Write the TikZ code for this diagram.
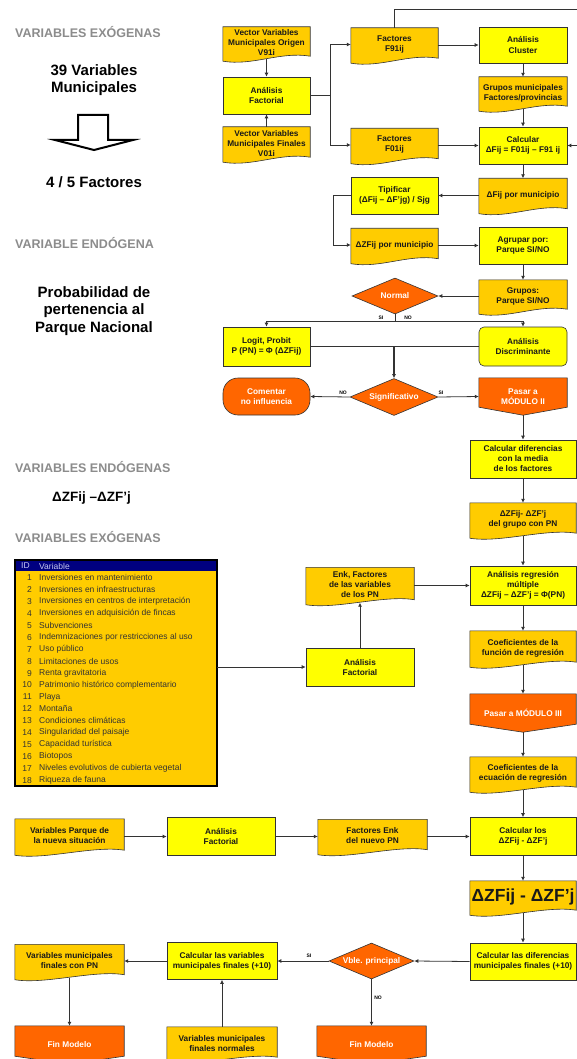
\documentclass[tikz,border=0pt]{standalone}
\usepackage{fontspec}
\setmainfont{Liberation Sans}
\usetikzlibrary{shapes.geometric,arrows.meta,backgrounds,calc}
\definecolor{procyellow}{HTML}{FFFF00}
\definecolor{docorange}{HTML}{FFCC00}
\definecolor{termred}{HTML}{FF6600}
\definecolor{headgray}{HTML}{8C8C8C}
\definecolor{tabnavy}{HTML}{000080}
\definecolor{tabhead}{HTML}{C8C8F0}
\definecolor{boxline}{HTML}{333333}
\tikzset{
  sz/.style 2 args={minimum width=#1, minimum height=#2},
  boxtext/.style={font=\fontsize{8.3}{10}\selectfont\bfseries, text=black!90, align=center, inner sep=1pt},
  procbox/.style={boxtext, rectangle, draw=boxline, fill=procyellow, line width=0.6pt},
  docbox/.style={boxtext, rectangle},
  offbox/.style={boxtext, rectangle, text=white},
  decision/.style={boxtext, diamond, aspect=2.4, draw=boxline, fill=termred, text=white, line width=0.6pt},
  docline/.style={draw=boxline, fill=docorange, line width=0.6pt},
  offline/.style={draw=boxline, fill=termred, line width=0.6pt},
  arr/.style={-{Latex[length=4pt,width=4pt]}, draw=boxline, line width=0.8pt},
  link/.style={draw=boxline, line width=0.8pt},
  heading/.style={font=\fontsize{12.5}{15}\selectfont\bfseries, text=headgray, anchor=west, inner sep=0pt},
  bigtext/.style={font=\fontsize{15}{17.5}\selectfont\bfseries, align=center, inner sep=0pt},
  branch/.style={font=\fontsize{5}{6}\selectfont\bfseries, inner sep=0pt},
  rowtext/.style={font=\fontsize{8.5}{10}\selectfont, text=black!80, inner sep=0pt},
}
\begin{document}
\begin{tikzpicture}[x=1pt,y=-1pt]
  \useasboundingbox (0,0) rectangle (576,1059);

  % left column
  \node[heading] (exo1) at (15,32) {VARIABLES EXÓGENAS};
  \node[bigtext] (nvars) at (94,80) {39 Variables\\Municipales};
  \draw[line width=2pt, fill=white] (78,115) -- (108,115) -- (108,140) -- (133,140)
    -- (94,150) -- (55,140) -- (78,140) -- cycle;
  \node[bigtext] (nfact) at (94,182) {4 / 5 Factores};
  \node[heading] (endo1) at (15,243) {VARIABLE ENDÓGENA};
  \node[bigtext] (prob) at (94,311) {Probabilidad de\\pertenencia al\\Parque Nacional};
  \node[heading] (endo2) at (15,467) {VARIABLES ENDÓGENAS};
  \node[font=\fontsize{13.5}{16}\selectfont\bfseries, anchor=west, inner sep=0pt] (dzlab) at (52,498) {ΔZFij –ΔZF’j};
  \node[heading] (exo2) at (15,537) {VARIABLES EXÓGENAS};

  % table of variables
  \node[rectangle, fill=docorange, sz={202}{226}, inner sep=0pt] (vartab) at (116,673) {};
  \fill[tabnavy] (vartab.north west) rectangle ($(vartab.north east)+(0,11)$);
  \node[rowtext, text=tabhead, anchor=west] (idhead) at (21,566) {ID};
  \node[rowtext, text=tabhead, anchor=west] (varhead) at (39,566) {Variable};
  \foreach \i/\vname in {1/Inversiones en mantenimiento, 2/Inversiones en infraestructuras,
      3/Inversiones en centros de interpretación, 4/Inversiones en adquisición de fincas,
      5/Subvenciones, 6/Indemnizaciones por restricciones al uso, 7/Uso público,
      8/Limitaciones de usos, 9/Renta gravitatoria, 10/Patrimonio histórico complementario,
      11/Playa, 12/Montaña, 13/Condiciones climáticas, 14/Singularidad del paisaje,
      15/Capacidad turística, 16/Biotopos, 17/Niveles evolutivos de cubierta vegetal,
      18/Riqueza de fauna}
  {
    \node[rowtext, anchor=east] (id\i) at (32,{566+11.9*\i}) {\i};
    \node[rowtext, anchor=west] (var\i) at (39,{566+11.9*\i}) {\vname};
  }
  \draw[line width=1.6pt] (vartab.north west) rectangle (vartab.south east);

  % module I
  \node[docbox, sz={87}{32}] (vorig) at (266.5,43) {Vector Variables\\Municipales Origen\\V91i};
  \node[procbox, sz={87}{37}] (afact1) at (266.5,95.5) {Análisis\\Factorial};
  \node[docbox, sz={87}{33}] (vfin) at (266.5,143.5) {Vector Variables\\Municipales Finales\\V01i};
  \node[docbox, sz={87}{33}] (f91) at (394.5,44.5) {Factores\\F91ij};
  \node[docbox, sz={87}{33}] (f01) at (394.5,145) {Factores\\F01ij};
  \node[procbox, sz={88}{36}] (cluster) at (523,45) {Análisis\\Cluster};
  \node[docbox, sz={88}{32}] (grmun) at (523,93) {Grupos municipales\\Factores/provincias};
  \node[procbox, sz={88}{37}] (calc) at (523,145.5) {Calcular\\ΔFij = F01ij – F91 ij};
  \node[docbox, sz={88}{33}] (dfij) at (523,195) {ΔFij por municipio};
  \node[procbox, sz={87}{37}] (tipif) at (394.5,195.5) {Tipificar\\(ΔFij – ΔF’jg) / Sjg};
  \node[docbox, sz={87}{33}] (dzf) at (394.5,245) {ΔZFij por municipio};
  \node[procbox, sz={88}{37}] (agrup) at (523,245.5) {Agrupar por:\\Parque SI/NO};
  \node[docbox, sz={88}{32}] (grpq) at (523,296) {Grupos:\\Parque SI/NO};
  \node[decision, sz={86}{36}] (normal) at (395,296) {Normal};
  \node[procbox, sz={87}{39}] (logit) at (266.5,346.5) {Logit, Probit\\P (PN) = Φ (ΔZFij)};
  \node[procbox, sz={88}{39}, rounded corners=5pt] (discr) at (523,346.5) {Análisis\\Discriminante};
  \node[decision, sz={88}{37}] (signif) at (394,397) {Significativo};
  \node[procbox, sz={87}{37}, fill=termred, text=white, rounded corners=15pt] (coment) at (266.5,396.5) {Comentar\\no influencia};
  \node[offbox, sz={88}{37}] (pasar2) at (523,396.5) {Pasar a\\MÓDULO II};

  % module II
  \node[procbox, sz={106}{38}] (cdif) at (523,459) {Calcular diferencias\\con la media\\de los factores};
  \node[docbox, sz={106}{33}] (dzgr) at (523,519.5) {ΔZFij- ΔZF’j\\del grupo con PN};
  \node[procbox, sz={106}{39}] (areg) at (523,585.5) {Análisis regresión\\múltiple\\ΔZFij – ΔZF’j = Φ(PN)};
  \node[docbox, sz={108}{35}] (enk) at (360,585) {Enk, Factores\\de las variables\\de los PN};
  \node[procbox, sz={108}{38}] (afact2) at (360,667) {Análisis\\Factorial};
  \node[docbox, sz={106}{34}] (coefun) at (523,648) {Coeficientes de la\\función de regresión};
  \node[offbox, sz={106}{38}] (pasar3) at (523,713) {Pasar a MÓDULO III};

  % module III
  \node[docbox, sz={106}{33}] (coefec) at (523,773.5) {Coeficientes de la\\ecuación de regresión};
  \node[docbox, sz={109}{34}] (vparq) at (69.5,836) {Variables Parque de\\la nueva situación};
  \node[procbox, sz={108}{38}] (afact3) at (221,836.5) {Análisis\\Factorial};
  \node[docbox, sz={109}{33}] (fenk) at (372.5,836) {Factores Enk\\del nuevo PN};
  \node[procbox, sz={106}{38}] (calclos) at (523,836.5) {Calcular los\\ΔZFij - ΔZF’j};
  \node[docbox, sz={106}{32}, font=\fontsize{17.5}{20}\selectfont\bfseries] (dzbig) at (523,897) {ΔZFij - ΔZF’j};
  \node[procbox, sz={106}{37}] (cdfin) at (523,961.5) {Calcular las diferencias\\municipales finales (+10)};
  \node[decision, sz={85}{36}] (vble) at (371.5,961) {Vble. principal};
  \node[procbox, sz={110}{37}] (cvar) at (222,961) {Calcular las variables\\municipales finales (+10)};
  \node[docbox, sz={109}{33}] (vconpn) at (69.5,961) {Variables municipales\\finales con PN};
  \node[docbox, sz={110}{33}] (vnorm) at (222,1043.5) {Variables municipales\\finales normales};
  \node[offbox, sz={109}{38}] (fin1) at (69.5,1045) {Fin Modelo};
  \node[offbox, sz={109}{38}] (fin2) at (371.5,1045) {Fin Modelo};

  % shapes behind the texts
  \begin{scope}[on background layer]
    \fill[white] (0,0) rectangle (576,1059);
    \foreach \n in {vorig,vfin,f91,f01,grmun,dfij,dzf,grpq,dzgr,enk,coefun,coefec,vparq,fenk,dzbig,vconpn,vnorm}
      \draw[docline] (\n.north west) -- (\n.north east) -- ([yshift=3pt]\n.south east)
        .. controls ([xshift=-30pt,yshift=8pt]\n.south east) and ([xshift=30pt,yshift=-7pt]\n.south west)
        .. ([yshift=-2pt]\n.south west) -- cycle;
    \foreach \n in {pasar2,pasar3,fin1,fin2}
      \draw[offline] (\n.north west) -- (\n.north east) -- ([yshift=8pt]\n.south east)
        -- (\n.south) -- ([yshift=8pt]\n.south west) -- cycle;
  \end{scope}

  % connectors
  \coordinate (toploop) at (590,9);
  \coordinate (nsplit) at ($(normal.south)+(0,7)$);
  \coordinate (lmid) at (signif.north |- logit.east);
  \draw[arr] (vorig) -- (afact1);
  \draw[arr] (vfin) -- (afact1);
  \draw[arr] (afact1.east) -- ++(20,0) |- (f91.west);
  \draw[arr] (afact1.east) -- ++(20,0) |- (f01.west);
  \draw[arr] (f91.east |- cluster.west) -- (cluster.west);
  \draw[arr] (f91.north) |- (toploop) |- (calc.east);
  \draw[arr] (cluster) -- (grmun);
  \draw[arr] (grmun) -- (calc);
  \draw[arr] (f01.east |- calc.west) -- (calc.west);
  \draw[arr] (calc) -- (dfij);
  \draw[arr] (dfij.west |- tipif.east) -- (tipif.east);
  \draw[arr] (tipif.west) -- ++(-17,0) |- (dzf.west);
  \draw[arr] (dzf.east |- agrup.west) -- (agrup.west);
  \draw[arr] (agrup) -- (grpq);
  \draw[arr] (grpq.west) -- (normal.east);
  \draw[link] (normal.south) -- (nsplit);
  \draw[arr] (nsplit) -| (logit.north);
  \draw[arr] (nsplit) -| (discr.north);
  \node[branch] (nsi) at (381,318) {SI};
  \node[branch] (nno) at (408,318) {NO};
  \draw[link] (logit.east) -- (discr.west);
  \draw[arr, line width=1.2pt] (lmid) -- (signif.north);
  \draw[arr] (signif.west) -- (coment.east);
  \draw[arr] (signif.east) -- (pasar2.west);
  \node[branch] (sno) at (343,393) {NO};
  \node[branch] (ssi) at (441,393) {SI};
  \draw[arr] (pasar2.south) -- (cdif.north);
  \draw[arr] (cdif) -- (dzgr);
  \draw[arr] (dzgr) -- (areg);
  \draw[arr] (areg) -- (coefun);
  \draw[arr] (coefun) -- (pasar3);
  \draw[arr] (pasar3.south) -- (coefec.north);
  \draw[arr] (afact2.west -| vartab.east) -- (afact2.west);
  \draw[arr] (afact2) -- (enk);
  \draw[arr] (enk.east |- areg.west) -- (areg.west);
  \draw[arr] (coefec) -- (calclos);
  \draw[arr] (vparq.east |- afact3.west) -- (afact3.west);
  \draw[arr] (afact3.east) -- (afact3.east -| fenk.west);
  \draw[arr] (fenk.east |- calclos.west) -- (calclos.west);
  \draw[arr] (calclos) -- (dzbig);
  \draw[arr] (dzbig) -- (cdfin);
  \draw[arr] (cdfin.west) -- (vble.east);
  \draw[arr] (vble.west) -- (cvar.east);
  \node[branch] (vsi) at (309,956) {SI};
  \draw[arr] (vble.south) -- (fin2.north);
  \node[branch] (vno) at (378,998) {NO};
  \draw[arr] (cvar.west) -- (vconpn.east);
  \draw[arr] (vconpn) -- (fin1);
  \draw[arr] (vnorm) -- (cvar);
\end{tikzpicture}
\end{document}
